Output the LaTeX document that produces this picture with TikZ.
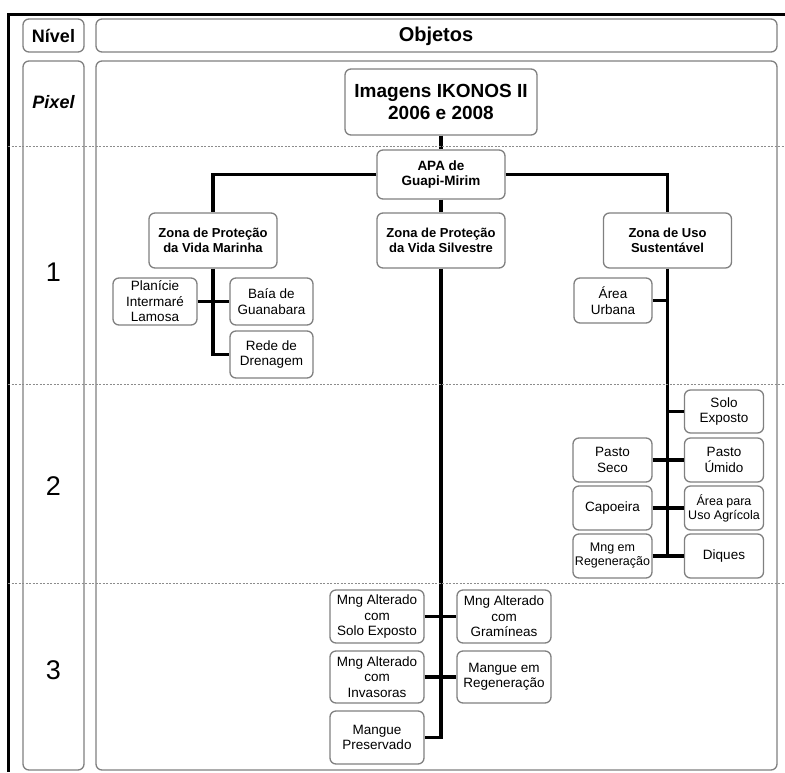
\documentclass[tikz,border=0pt]{standalone}
\usepackage{fontspec}
\setmainfont{Liberation Sans}
\begin{document}
\begin{tikzpicture}[x=1pt,y=-1pt,
  frame/.style={line width=1.3pt,draw=black!50,rounded corners=6pt},
  box/.style={draw=black!50,line width=1.3pt,rounded corners=6pt,align=center,inner sep=0pt,
    font=\fontsize{13.5}{15.5}\selectfont,minimum width=#1},
  box/.default=80pt,
  zbox/.style={box=128pt,minimum height=55pt,font=\bfseries\fontsize{13}{14.5}\selectfont},
  sbox/.style={box=79pt,minimum height=44pt},
  mbox/.style={box=94pt,minimum height=52pt},
  conn/.style={line width=3.2pt,black},
  sep/.style={draw=black!45,line width=0.7pt,dash pattern=on 2pt off 1.5pt},
  lvl/.style={font=\fontsize{27}{30}\selectfont}
]
\useasboundingbox (0,0) rectangle (785,772);
% outer frame
\draw[line width=3pt] (785,14) -- (8,14) -- (8,772);
% header boxes
\draw[frame] (23,19) rectangle (84,52);
\draw[frame] (96,19) rectangle (777,52);
\draw[frame] (23,61) rectangle (84,770);
\draw[frame] (96,61) rectangle (777,770);
\node[font=\bfseries\fontsize{18}{20}\selectfont] (niv) at (53.5,36) {Nível};
\node[font=\bfseries\fontsize{20}{22}\selectfont] (obj) at (436,36) {Objetos};
% level labels
\node[font=\bfseries\itshape\fontsize{18}{20}\selectfont] (lp) at (53.5,102) {Pixel};
\node[lvl] (l1) at (53.5,272) {1};
\node[lvl] (l2) at (53.5,486) {2};
\node[lvl] (l3) at (53.5,670) {3};
% nodes
\node[box=192pt,minimum height=66pt,font=\bfseries\fontsize{19}{21.5}\selectfont] (ikonos) at (441,102) {Imagens IKONOS II\\2006 e 2008};
\node[box=128pt,minimum height=49pt,font=\bfseries\fontsize{13.5}{15}\selectfont] (apa) at (441,174.5) {APA de\\Guapi-Mirim};
\node[zbox] (zmar) at (213,240.5) {Zona de Proteção\\da Vida Marinha};
\node[zbox] (zsil) at (441,240.5) {Zona de Proteção\\da Vida Silvestre};
\node[zbox] (zuso) at (667.5,240.5) {Zona de Uso\\Sustentável};
\node[box=84pt,minimum height=47pt] (plan) at (155,301.5) {Planície\\Intermaré\\Lamosa};
\node[box=83pt,minimum height=47pt] (baia) at (271.5,301.5) {Baía de\\Guanabara};
\node[box=83pt,minimum height=47pt] (rede) at (271.5,354.5) {Rede de\\Drenagem};
\node[box=78pt,minimum height=45pt] (urb) at (613,300.5) {Área\\Urbana};
\node[sbox,minimum height=43pt] (solo) at (724,411.5) {Solo\\Exposto};
\node[sbox] (pseco) at (612.5,460) {Pasto\\Seco};
\node[sbox] (pumido) at (724,460) {Pasto\\Úmido};
\node[sbox] (capo) at (612.5,508) {Capoeira};
\node[sbox,font=\fontsize{12.5}{14}\selectfont] (agri) at (724,508) {Área para\\Uso Agrícola};
\node[sbox,font=\fontsize{12.5}{14}\selectfont] (mngreg) at (612.5,556) {Mng em\\Regeneração};
\node[sbox] (diques) at (724,556) {Diques};
\node[mbox,minimum height=53pt] (mas) at (377,616.5) {Mng Alterado\\com\\Solo Exposto};
\node[mbox,minimum height=53pt] (mag) at (504,616.5) {Mng Alterado\\com\\Gramíneas};
\node[mbox] (mai) at (377,677) {Mng Alterado\\com\\Invasoras};
\node[mbox] (mreg) at (504,677) {Mangue em\\Regeneração};
\node[mbox,minimum height=53pt] (mpres) at (377,737.5) {Mangue\\Preservado};
% connectors
\draw[conn] (ikonos.south) -- (apa.north);
\draw[conn] (apa.south) -- (zsil.north);
\draw[conn] (apa.west) -| (zmar.north);
\draw[conn] (apa.east) -| (zuso.north);
\draw[conn] (zmar.south) |- (rede.west);
\draw[conn] (plan.east) -- (baia.west);
\draw[conn] (zuso.south) -- (zuso.south |- diques.west);
\draw[conn] (urb.east) -- (urb.east -| zuso.south);
\draw[conn] (solo.west) -- (solo.west -| zuso.south);
\draw[conn] (pseco.east) -- (pumido.west);
\draw[conn] (capo.east) -- (agri.west);
\draw[conn] (mngreg.east) -- (diques.west);
\draw[conn] (zsil.south) |- (mpres.east);
\draw[conn] (mas.east) -- (mag.west);
\draw[conn] (mai.east) -- (mreg.west);
% level separators
\draw[sep] (8,146) -- (785,146);
\draw[sep] (8,384) -- (785,384);
\draw[sep] (8,583) -- (785,583);
\end{tikzpicture}
\end{document}
